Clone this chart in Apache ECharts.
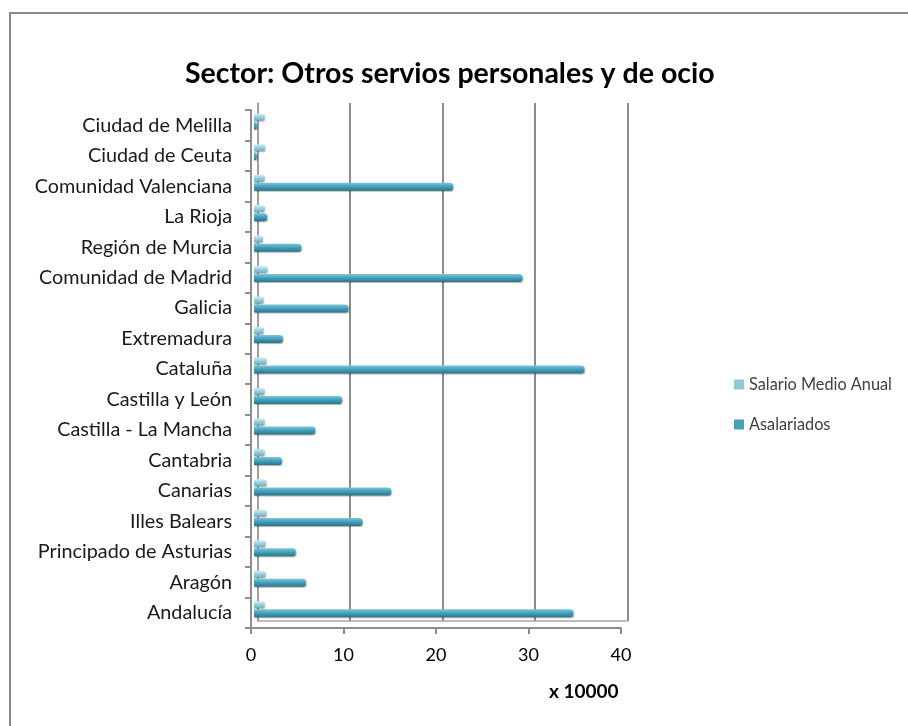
<!DOCTYPE html>
<html>
<head>
<meta charset="utf-8">
<title>Sector: Otros servios personales y de ocio</title>
<script src="https://cdn.jsdelivr.net/npm/echarts@6/dist/echarts.min.js"></script>
<style>
  html, body { margin: 0; padding: 0; background: #fff; }
  #chart { width: 908px; height: 726px; }
</style>
</head>
<body>
<div id="chart"></div>
<script>
// Regions, listed top to bottom as they appear on the axis
const categories = [
  'Ciudad de Melilla', 'Ciudad de Ceuta', 'Comunidad Valenciana', 'La Rioja',
  'Región de Murcia', 'Comunidad de Madrid', 'Galicia', 'Extremadura',
  'Cataluña', 'Castilla y León', 'Castilla - La Mancha', 'Cantabria',
  'Canarias', 'Illes Balears', 'Principado de Asturias', 'Aragón', 'Andalucía'
];

// Values in units of 10 000
const salarioMedioAnual = [
  1.1, 1.15, 1.1, 1.1,
  0.9, 1.4, 1.0, 1.0,
  1.3, 1.1, 1.1, 1.1,
  1.3, 1.3, 1.2, 1.2, 1.1
];
const asalariados = [
  0.3, 0.3, 21.5, 1.4,
  5.1, 29.0, 10.2, 3.1,
  35.7, 9.5, 6.6, 3.0,
  14.8, 11.7, 4.5, 5.6, 34.5
];

const xTicks = [0, 10, 20, 30, 40];
const unitLabel = 'x 10000';

const FONT = 'Lato';
const GREY = '#8c8c8c';
const LIGHT = '#93c6d6';
const DARK = '#4a9fb5';

const chart = echarts.init(document.getElementById('chart'), null, { renderer: 'canvas' });

function cylinder(top, mid, bottom) {
  return new echarts.graphic.LinearGradient(0, 0, 0, 1, [
    { offset: 0, color: top },
    { offset: 0.45, color: mid },
    { offset: 1, color: bottom }
  ]);
}

const option = {
  backgroundColor: '#ffffff',
  animation: false,
  title: [
    {
      text: 'Sector: Otros servios personales y de ocio',
      left: 180,
      top: 54,
      textStyle: { fontFamily: FONT, fontSize: 28.5, fontWeight: 'bold', color: '#000' }
    },
    {
      text: unitLabel,
      left: 544,
      top: 677,
      textStyle: { fontFamily: FONT, fontSize: 19, fontWeight: 'bold', color: '#000' }
    }
  ],
  legend: {
    orient: 'vertical',
    left: 729,
    top: 370,
    itemWidth: 10,
    itemHeight: 10,
    itemGap: 21,
    icon: 'rect',
    textStyle: { fontFamily: FONT, fontSize: 16.3, color: '#404040', lineHeight: 19 },
    data: [
      { name: 'Salario Medio Anual', itemStyle: { color: LIGHT } },
      { name: 'Asalariados', itemStyle: { color: DARK } }
    ]
  },
  grid: [
    // front plane: axis labels and ticks
    { left: 251, right: 287, top: 110, bottom: 98 },
    // back wall: grid lines
    { left: 257.5, right: 280.5, top: 103, bottom: 105 },
    // bars, placed midway in depth
    { left: 254, right: 284, top: 106.5, bottom: 101.5 }
  ],
  xAxis: [
    {
      gridIndex: 0, type: 'value', min: xTicks[0], max: xTicks[xTicks.length - 1], interval: 10,
      axisLine: { show: true, lineStyle: { color: GREY, width: 2 } },
      axisTick: { show: true, length: 6, lineStyle: { color: GREY, width: 2 } },
      axisLabel: { fontFamily: FONT, fontSize: 18, color: '#000', margin: 18 },
      splitLine: { show: false }
    },
    {
      gridIndex: 1, type: 'value', min: xTicks[0], max: xTicks[xTicks.length - 1], interval: 10,
      axisLine: { show: true, lineStyle: { color: '#a6a6a6', width: 1.5 } },
      axisTick: { show: false }, axisLabel: { show: false },
      splitLine: { show: true, lineStyle: { color: GREY, width: 2 } }
    },
    {
      gridIndex: 2, type: 'value', min: xTicks[0], max: xTicks[xTicks.length - 1],
      show: false
    }
  ],
  yAxis: [
    {
      gridIndex: 0, type: 'category', data: categories, inverse: true,
      axisLine: { show: true, lineStyle: { color: GREY, width: 2 } },
      axisTick: { show: true, length: 6, lineStyle: { color: GREY, width: 2 } },
      axisLabel: { fontFamily: FONT, fontSize: 19.8, color: '#1a1a1a', margin: 19 }
    },
    {
      gridIndex: 1, type: 'category', data: categories, inverse: true,
      axisLine: { show: true, lineStyle: { color: '#a6a6a6', width: 1.5 } },
      axisTick: { show: false }, axisLabel: { show: false }
    },
    {
      gridIndex: 2, type: 'category', data: categories, inverse: true, show: false
    }
  ],
  series: [
    {
      name: 'Salario Medio Anual',
      type: 'bar',
      xAxisIndex: 2, yAxisIndex: 2,
      data: salarioMedioAnual,
      barWidth: 7,
      barGap: '15%',
      color: LIGHT,
      itemStyle: {
        color: cylinder('#d4eef5', '#9dd2e1', '#6eaabb'),
        borderRadius: [0, 2, 2, 0],
        shadowColor: 'rgba(0,0,0,0.25)', shadowOffsetX: 1, shadowOffsetY: 1, shadowBlur: 1
      }
    },
    {
      name: 'Asalariados',
      type: 'bar',
      xAxisIndex: 2, yAxisIndex: 2,
      data: asalariados,
      barWidth: 8,
      color: DARK,
      itemStyle: {
        color: cylinder('#7cc6da', '#45a3bd', '#2b7489'),
        borderRadius: [0, 3, 3, 0],
        shadowColor: 'rgba(0,0,0,0.3)', shadowOffsetX: 1, shadowOffsetY: 1, shadowBlur: 1
      }
    }
  ],
  graphic: [
    {
      type: 'rect',
      shape: { x: 10, y: 13, width: 1000, height: 1000 },
      style: { fill: 'none', stroke: '#8a8a8a', lineWidth: 2 },
      silent: true
    }
  ]
};

chart.setOption(option);
</script>
</body>
</html>
